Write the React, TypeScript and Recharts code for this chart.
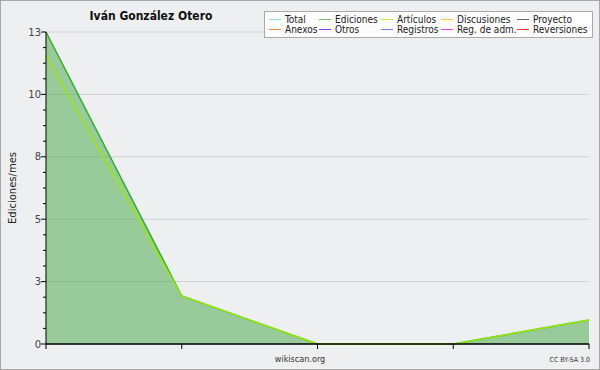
import { AreaChart, Area, XAxis, YAxis, CartesianGrid } from "recharts";

const periods = ["P1", "P2", "P3", "P4", "P5"];
const ediciones = [13, 2, 0, 0, 1];
const articulos = [12, 2, 0, 0, 1];
const yTicks = [0, 2.6, 5.2, 7.8, 10.4, 13];
const minorTicks = [
  0.65, 1.3, 1.95, 3.25, 3.9, 4.55, 5.85, 6.5, 7.15, 8.45, 9.1, 9.75, 11.05, 11.7, 12.35,
];
const allTicks = [...yTicks, ...minorTicks].sort((a, b) => a - b);

const legendNames = [
  "Total", "Ediciones", "Artículos", "Discusiones", "Proyecto",
  "Anexos", "Otros", "Registros", "Reg. de adm.", "Reversiones",
];
const legendColors = [
  "#88dde8", "#66c466", "#c8f032", "#f5c832", "#666666",
  "#f58c3c", "#8c3ce6", "#7882f5", "#dc46e6", "#f03c3c",
];
const legendTextX = [285, 335, 397, 457, 533];

const data = periods.map((p, i) => ({ p, ediciones: ediciones[i], articulos: articulos[i] }));

const font = "'DejaVu Sans', sans-serif";
const condensed = "'DejaVu Sans Condensed', 'DejaVu Sans', sans-serif";

const YTick = (props: any) => {
  const { x, y, payload } = props;
  const major = yTicks.includes(payload.value);
  return (
    <g>
      <line x1={x - (major ? 5 : 3)} x2={x} y1={y} y2={y} stroke="#000" />
      {major && (
        <text x={x - 5} y={y} dy="0.35em" textAnchor="end" fontSize={10} fill="#444" fontFamily={font}>
          {Math.round(payload.value)}
        </text>
      )}
    </g>
  );
};

const Legend = () => (
  <svg width={329} height={27} style={{ position: "absolute", left: 264, top: 11 }}>
    <rect x={0.5} y={0.5} width={328} height={26} fill="#fff" fillOpacity={0.85} stroke="#aaa" />
    {legendNames.map((n, i) => {
      const col = i % 5;
      const row = Math.floor(i / 5);
      const tx = legendTextX[col] - 264;
      const ly = 8.5 + row * 10;
      return (
        <g key={n}>
          <line x1={tx - 16} x2={tx - 4} y1={ly} y2={ly} stroke={legendColors[i]} />
          <text x={tx} y={ly} dy="0.35em" fontSize={10} fontFamily={condensed} fill="#222">{n}</text>
        </g>
      );
    })}
  </svg>
);

const App = () => (
  <div style={{ position: "absolute", left: 0, top: 0, width: 600, height: 370, background: "#eeeff1", fontFamily: font }}>
    <div style={{ position: "absolute", inset: 0, border: "1px solid #a8a8a8", boxSizing: "border-box" }} />
    <AreaChart
      width={600}
      height={370}
      data={data}
      margin={{ top: 32, right: 11, bottom: 21, left: 0 }}
      style={{ position: "absolute", left: 0, top: 0 }}
    >
      <CartesianGrid horizontal vertical={false} stroke="#cfcfcf" horizontalValues={yTicks} />
      <YAxis
        domain={[0, 13]}
        ticks={allTicks}
        interval={0}
        width={46}
        tickSize={0}
        tickMargin={0}
        axisLine={{ stroke: "#000" }}
        tickLine={false}
        tick={<YTick />}
        label={{ value: "Ediciones/mes", angle: -90, position: "insideLeft", offset: 12, style: { fontSize: 10, fill: "#222", fontFamily: font, textAnchor: "middle" } }}
      />
      <Area
        type="linear"
        dataKey="ediciones"
        stroke="#33aa33"
        strokeWidth={1.5}
        fill="#2ea02e"
        fillOpacity={0.45}
        isAnimationActive={false}
        dot={false}
        activeDot={false}
      />
      <Area
        type="linear"
        dataKey="articulos"
        stroke="#99e810"
        strokeWidth={1.5}
        fill="none"
        fillOpacity={0}
        isAnimationActive={false}
        dot={false}
        activeDot={false}
      />
      <XAxis
        dataKey="p"
        scale="point"
        height={5}
        interval={0}
        tickSize={5}
        axisLine={{ stroke: "#000", strokeWidth: 1.5 }}
        tickLine={{ stroke: "#000" }}
        tickFormatter={() => ""}
      />
    </AreaChart>
    <div style={{ position: "absolute", left: 46, width: 210, top: 9, textAlign: "center", fontSize: 12, fontWeight: "bold", fontFamily: condensed, color: "#111" }}>
      Iván González Otero
    </div>
    <Legend />
    <div style={{ position: "absolute", left: 0, width: 600, top: 354, textAlign: "center", fontSize: 9, fontFamily: condensed, color: "#333" }}>
      wikiscan.org
    </div>
    <div style={{ position: "absolute", right: 10, top: 356, fontSize: 7, fontFamily: condensed, color: "#333" }}>CC BY-SA 3.0</div>
  </div>
);

export default App;
